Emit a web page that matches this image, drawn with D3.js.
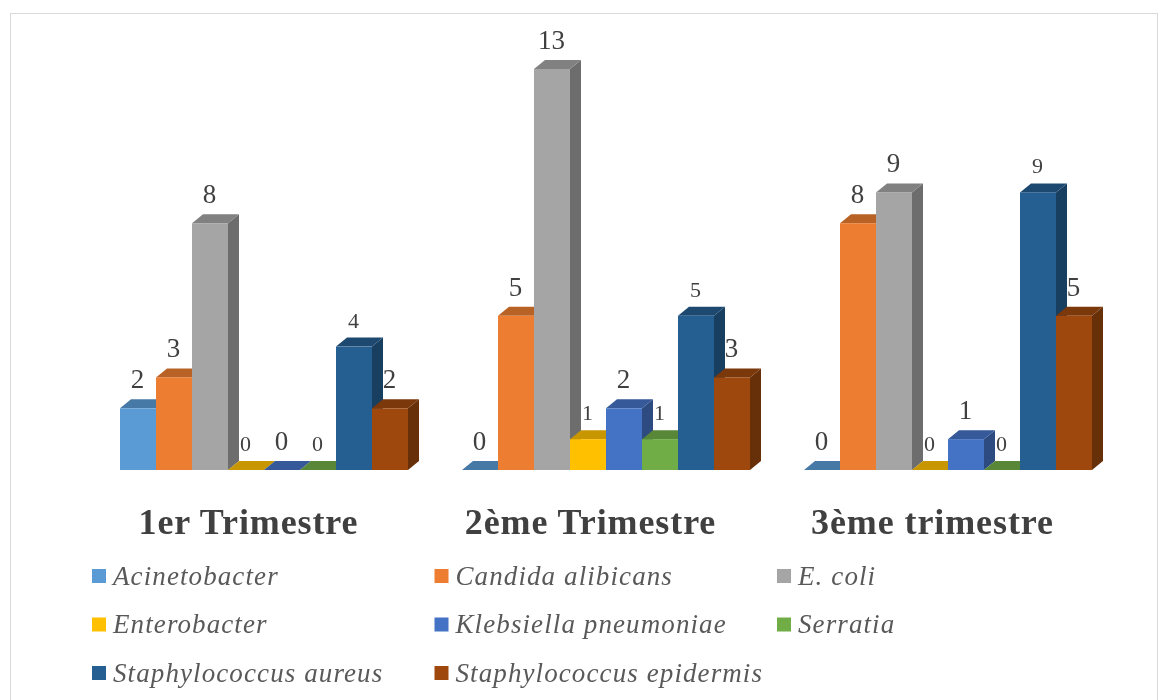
<!DOCTYPE html>
<html><head><meta charset="utf-8">
<script src="https://cdnjs.cloudflare.com/ajax/libs/d3/7.8.5/d3.min.js"></script>
<style>html,body{margin:0;padding:0;background:#fff}svg{display:block;filter:blur(0.5px)}text{font-family:"Liberation Serif",serif}</style>
</head><body><svg id="c" width="1170" height="700"></svg>
<script>
const categories = ["1er Trimestre","2ème Trimestre","3ème trimestre"];
const seriesNames = ["Acinetobacter","Candida alibicans","E. coli","Enterobacter","Klebsiella pneumoniae","Serratia","Staphylococcus aureus","Staphylococcus epidermis"];
const colors = ["#5B9BD5","#ED7D31","#A5A5A5","#FFC000","#4472C4","#70AD47","#255E91","#9E480E"];
const acinetobacter = [2,0,0];
const candida = [3,5,8];
const ecoli = [8,13,9];
const enterobacter = [0,1,0];
const klebsiella = [0,2,1];
const serratia = [0,1,0];
const aureus = [4,5,9];
const epidermis = [2,3,5];
const seriesValues = [acinetobacter,candida,ecoli,enterobacter,klebsiella,serratia,aureus,epidermis];
const smallLabels = [[0,0,0],[0,0,0],[0,0,0],[1,1,1],[0,0,0],[1,1,1],[1,1,1],[0,0,0]];

const svg = d3.select("#c");
svg.append("rect").attr("x",10.5).attr("y",13.5).attr("width",1147).attr("height",700)
  .attr("fill","#fff").attr("stroke","#d9d9d9");

const x0 = d3.scaleBand().domain(categories).range([93,1119]);
const x1 = d3.scaleBand().domain(seriesNames).range([27,315]);
const y = d3.scaleLinear().domain([0,13]).range([470,69]);
const dx = 11, dy = 9;
const shade = (c,k)=>{const r=d3.rgb(c);return d3.rgb(r.r*k,r.g*k,r.b*k).formatHex();};

categories.forEach((cat,ci)=>{
  const g = svg.append("g").attr("transform",`translate(${x0(cat)},0)`);
  seriesNames.forEach((name,si)=>{
    const v = seriesValues[si][ci], c = colors[si];
    const l = x1(name), r = l + x1.bandwidth(), t = y(v), b = y(0);
    const bar = g.append("g");
    bar.append("path").attr("fill",shade(c,0.66))
      .attr("d",`M${r},${t}L${r+dx},${t-dy}L${r+dx},${b-dy}L${r},${b}Z`);
    bar.append("path").attr("fill",shade(c,0.78))
      .attr("d",`M${l},${t}L${l+dx},${t-dy}L${r+dx},${t-dy}L${r},${t}Z`);
    if (v>0) bar.append("rect").attr("x",l).attr("y",t).attr("width",r-l).attr("height",b-t).attr("fill",c);
  });
});
categories.forEach((cat,ci)=>{
  seriesNames.forEach((name,si)=>{
    const v = seriesValues[si][ci], small = smallLabels[si][ci];
    svg.append("text").attr("x",x0(cat)+x1(name)+x1.bandwidth()/2-0.5)
      .attr("y",y(v)-(small?19:20)).attr("text-anchor","middle")
      .attr("font-size",small?22:27).attr("fill","#404040").text(v);
  });
  svg.append("text").attr("x",x0(cat)+x0.bandwidth()/2-15.5).attr("y",534)
    .attr("text-anchor","middle").attr("font-size",36).attr("font-weight","bold")
    .attr("letter-spacing",0.9).attr("fill","#404040").text(cat);
});
const legX = d3.scalePoint().domain([0,1,2]).range([92,777]);
const legY = d3.scalePoint().domain([0,1,2]).range([576,673]);
seriesNames.forEach((name,i)=>{
  const col=i%3,row=Math.floor(i/3);
  svg.append("rect").attr("x",legX(col)).attr("y",legY(row)-7).attr("width",14).attr("height",14).attr("fill",colors[i]);
  svg.append("text").attr("x",legX(col)+21).attr("y",legY(row)+8.5)
    .attr("font-size",27).attr("font-style","italic").attr("letter-spacing",1.1).attr("fill","#595959").text(name);
});
</script></body></html>
